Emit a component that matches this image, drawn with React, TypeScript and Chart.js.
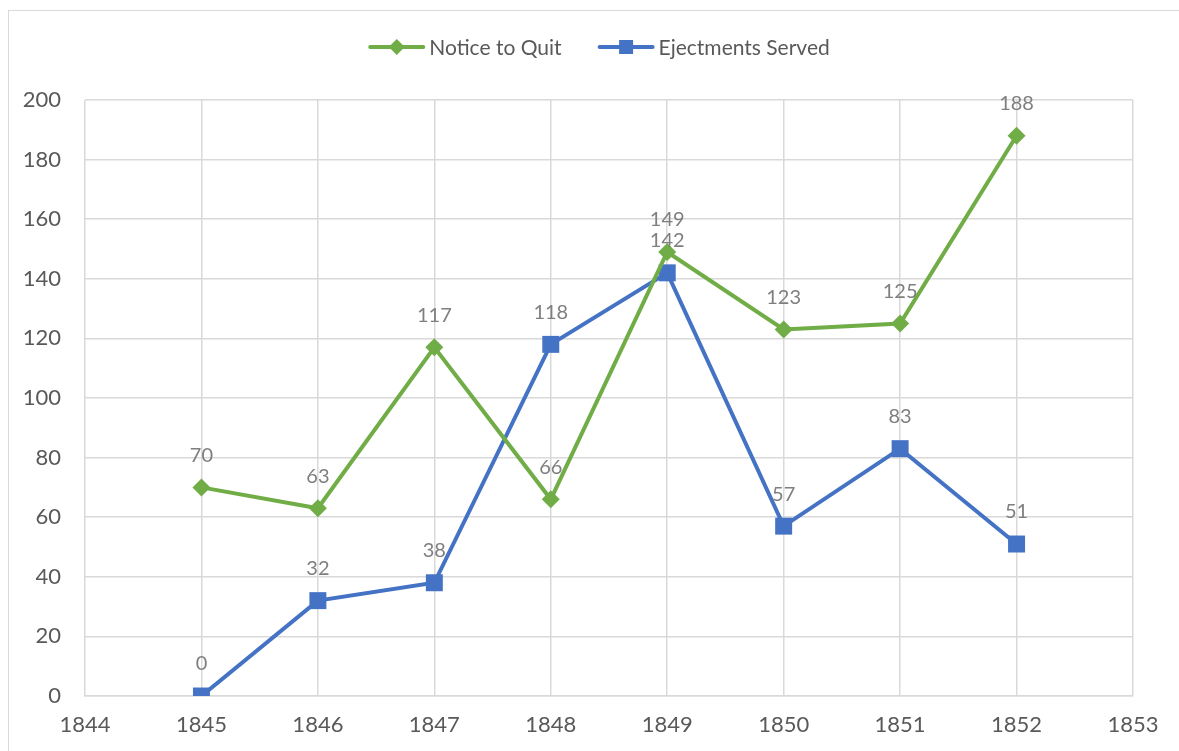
import React, { useEffect, useRef } from "react";
import { Chart, registerables } from "chart.js";

Chart.register(...registerables);

const years = [1845, 1846, 1847, 1848, 1849, 1850, 1851, 1852];
const noticeToQuit = [70, 63, 117, 66, 149, 123, 125, 188];
const ejectmentsServed = [0, 32, 38, 118, 142, 57, 83, 51];
const seriesNames = ["Notice to Quit", "Ejectments Served"];
const xMin = 1844;
const xMax = 1853;
const yMin = 0;
const yMax = 200;

const GREEN = "#70ad47";
const BLUE = "#4472c4";
const FONT = "Lato, 'Open Sans', sans-serif";

const borderPlugin = {
  id: "outerBorder",
  beforeDraw(chart: any) {
    const ctx = chart.ctx;
    ctx.save();
    ctx.fillStyle = "#ffffff";
    ctx.fillRect(0, 0, chart.width, chart.height);
    ctx.strokeStyle = "#d9d9d9";
    ctx.lineWidth = 1;
    ctx.strokeRect(8.5, 10.5, chart.width + 20, chart.height + 20);
    ctx.restore();
  },
};

const dataLabelPlugin = {
  id: "dataLabels",
  afterDatasetsDraw(chart: any) {
    const ctx = chart.ctx;
    ctx.save();
    ctx.font = `20px ${FONT}`;
    ctx.fillStyle = "#7f7f7f";
    ctx.textAlign = "center";
    ctx.textBaseline = "middle";
    chart.data.datasets.forEach((ds: any, i: number) => {
      const meta = chart.getDatasetMeta(i);
      meta.data.forEach((pt: any, j: number) => {
        const v = ds.data[j].y;
        ctx.fillText(String(v), pt.x, pt.y - 32);
      });
    });
    ctx.restore();
  },
};

const legendPlugin = {
  id: "customLegend",
  afterDraw(chart: any) {
    const ctx = chart.ctx;
    ctx.save();
    ctx.font = `21px ${FONT}`;
    ctx.textBaseline = "middle";
    const lineLen = 53;
    const gap = 6;
    const itemGap = 38;
    const colors = [GREEN, BLUE];
    const widths = seriesNames.map((n) => lineLen + gap + ctx.measureText(n).width);
    const total = widths.reduce((a, b) => a + b, 0) + itemGap;
    let x = 600 - total / 2;
    const y = 47;
    seriesNames.forEach((name, i) => {
      ctx.strokeStyle = colors[i];
      ctx.lineWidth = 4;
      ctx.lineCap = "round";
      ctx.beginPath();
      ctx.moveTo(x, y);
      ctx.lineTo(x + lineLen, y);
      ctx.stroke();
      const cx = x + lineLen / 2;
      ctx.fillStyle = colors[i];
      if (i === 0) {
        ctx.beginPath();
        ctx.moveTo(cx, y - 8);
        ctx.lineTo(cx + 8, y);
        ctx.lineTo(cx, y + 8);
        ctx.lineTo(cx - 8, y);
        ctx.closePath();
        ctx.fill();
      } else {
        ctx.fillRect(cx - 7, y - 7, 14, 14);
      }
      ctx.fillStyle = "#595959";
      ctx.textAlign = "left";
      ctx.fillText(name, x + lineLen + gap, y + 1);
      x += widths[i] + itemGap;
    });
    ctx.restore();
  },
};

export default function App() {
  const ref = useRef<HTMLCanvasElement | null>(null);
  useEffect(() => {
    if (!ref.current) return;
    const chart = new Chart(ref.current, {
      type: "line",
      data: {
        datasets: [
          {
            label: seriesNames[0],
            data: years.map((y, i) => ({ x: y, y: noticeToQuit[i] })),
            borderColor: GREEN,
            backgroundColor: GREEN,
            borderWidth: 4,
            pointStyle: "rectRot",
            pointRadius: 9,
            pointBorderWidth: 0,
            pointBackgroundColor: GREEN,
            tension: 0,
          },
          {
            label: seriesNames[1],
            data: years.map((y, i) => ({ x: y, y: ejectmentsServed[i] })),
            borderColor: BLUE,
            backgroundColor: BLUE,
            borderWidth: 4,
            pointStyle: "rect",
            pointRadius: 12,
            pointBorderWidth: 0,
            pointBackgroundColor: BLUE,
            tension: 0,
          },
        ],
      },
      options: {
        responsive: false,
        animation: false,
        layout: { padding: { top: 100, right: 46, left: 0, bottom: 0 } },
        plugins: { legend: { display: false }, tooltip: { enabled: false } },
        scales: {
          x: {
            type: "linear",
            min: xMin,
            max: xMax,
            ticks: {
              stepSize: 1,
              callback: (v: any) => String(v),
              font: { size: 22, family: FONT },
              color: "#595959",
              padding: 16,
            },
            grid: { color: "#d9d9d9", lineWidth: 1.5, drawTicks: false },
            border: { color: "#d9d9d9", width: 1.5 },
            afterFit: (s: any) => {
              s.height = 55;
            },
          },
          y: {
            min: yMin,
            max: yMax,
            ticks: {
              stepSize: 20,
              font: { size: 22, family: FONT },
              color: "#595959",
              padding: 24,
            },
            grid: { color: "#d9d9d9", lineWidth: 1.5, drawTicks: false },
            border: { display: false },
            afterFit: (s: any) => {
              s.width = 85;
            },
          },
        },
      },
      plugins: [borderPlugin, dataLabelPlugin, legendPlugin],
    } as any);
    return () => chart.destroy();
  }, []);
  return (
    <div style={{ position: "fixed", left: 0, top: 0, width: 1179, height: 751 }}>
      <canvas ref={ref} width={1179} height={751} style={{ display: "block" }} />
    </div>
  );
}
